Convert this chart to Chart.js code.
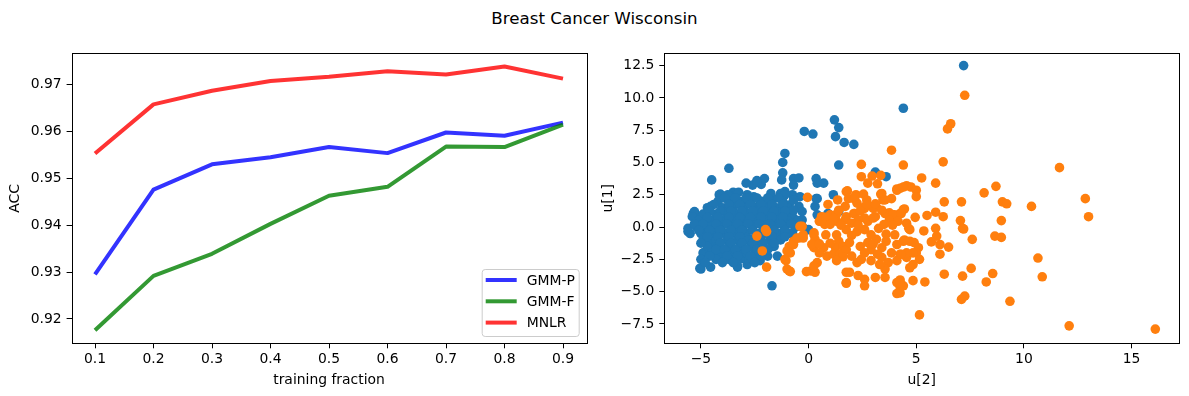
<!DOCTYPE html>
<html>
<head>
<meta charset="utf-8">
<script src="https://cdn.jsdelivr.net/npm/chart.js@4/dist/chart.umd.min.js"></script>
<style>
    body { margin: 0; background: #fff; overflow: hidden; width: 1189px; height: 396px; position: relative; }
    #fig-title { position: absolute; left: 0; top: 8px; width: 1189px; text-align: center; font: 16.7px 'DejaVu Sans', sans-serif; line-height: 20px; color: #000; }
    canvas { position: absolute; top: 40px; }
    #accChart { left: 0; }
    #embedChart { left: 595px; }
</style>
</head>
<body>
<div id="fig-title">Breast Cancer Wisconsin</div>
<canvas id="accChart" width="600" height="356"></canvas>
<canvas id="embedChart" width="594" height="356"></canvas>
<script>
// left panel: accuracy vs training fraction
const fractions = [0.1, 0.2, 0.3, 0.4, 0.5, 0.6, 0.7, 0.8, 0.9];
const gmmP = [0.9295, 0.9476, 0.9530, 0.9545, 0.9567, 0.9554, 0.9598, 0.9591, 0.9619];
const gmmF = [0.9176, 0.9292, 0.9339, 0.9403, 0.9463, 0.9482, 0.9568, 0.9567, 0.9615];
const mnlr = [0.9553, 0.9658, 0.9687, 0.9708, 0.9717, 0.9729, 0.9722, 0.9739, 0.9713];
const accTicks = [0.92, 0.93, 0.94, 0.95, 0.96, 0.97];
const fracTicks = [0.1, 0.2, 0.3, 0.4, 0.5, 0.6, 0.7, 0.8, 0.9];

// right panel: embedding [u[2], u[1]] per class
const class0 = [
    [7.2, 12.5], [4.4, 9.2], [1.2, 8.3], [1.4, 7.7], [1.25, 7.0], [1.65, 6.55], [2.1, 6.4], [-0.2, 7.4], [0.2, 7.2],
    [1.4, 4.8], [-1.1, 5.7], [-1.2, 5.0], [-1.2, 4.2], [-1.25, 3.65], [-3.7, 4.55], [-4.5, 3.65], [3.1, 4.25], [3.6, 3.9],
    [0.35, 3.75], [0.7, 3.4], [0.4, 3.4], [-0.7, 3.75], [-0.45, 3.8], [-0.7, 3.25], [-2.05, 3.75], [-2.4, 3.6], [-2.6, 3.25],
    [-4.15, 2.5], [-3.5, 2.7], [-3.25, 2.7], [-4.55, 1.6], [-5.3, 1.1], [1.15, 2.5], [0.35, 2.2], [-2.9, 3.4], [-2.2, 3.3],
    [-3.75, 2.5], [-1.1, 2.75], [-0.75, 2.5], [-0.4, 2.35], [-0.9, 1.7], [-0.45, 1.6], [-0.3, 1.2], [0.4, 2.2], [0.3, 1.6],
    [0.4, 0.95], [-0.75, 0.8], [-0.3, 0.55], [0.9, 1.05], [1.4, 1.2], [-0.9, 0.3], [-0.6, 0.55], [-0.3, 0.05], [0.0, -0.2],
    [-0.75, -0.45], [-1.7, -4.55], [-5.0, -3.25], [-4.55, -3.1], [-5.6, -0.35], [-5.5, -0.5], [-5.35, 1.05], [-4.95, 0.65],
    [-4.1, -2.5], [-3.3, -3.1], [-2.85, -2.9], [-2.25, -2.6], [-4.9, -2.0], [-4.6, -1.75], [-4.1, 2.55], [-5.3, 1.2],
    [-5.4, 0.8], [-5.0, 0.7], [-5.6, -0.1], [-2.4, 3.5], [-1.75, 2.6], [-1.3, 2.6], [-1.1, 2.5], [-2.55, 2.35], [-2.85, 2.5],
    [-3.45, 1.95], [-3.9, 1.2], [-3.05, 1.7], [-2.3, 1.7], [-1.9, 1.6], [-4.4, 0.45], [-4.7, 0.05], [-3.75, 0.3], [-3.3, 0.7],
    [-2.85, 1.05], [-2.55, 0.95], [-2.1, 0.95], [-1.6, 0.7], [-1.3, 1.2], [-1.0, 0.7], [-4.85, -0.45], [-4.4, -0.2],
    [-3.9, -0.45], [-3.45, -0.2], [-3.0, -0.35], [-2.7, -0.95], [-4.55, -1.2], [-4.85, -2.0], [-5.0, -2.5], [-4.1, -2.25],
    [-3.6, -1.75], [-3.15, -1.75], [-3.3, -2.5], [-2.85, -2.5], [-2.4, -2.25], [-1.9, -2.25], [-1.6, -1.5], [-1.45, -2.25],
    [-1.75, -0.45], [-1.3, -0.95], [-1.15, -0.35], [-5.05, -3.2], [-3.3, -3.05],
    [-4.2, 2.0], [-3.7, 2.0], [-3.2, 2.0], [-2.7, 2.0], [-2.2, 2.0], [-1.7, 2.0], [-1.2, 2.0],
    [-4.7, 1.5], [-4.0, 1.5], [-3.5, 1.5], [-3.0, 1.5], [-2.5, 1.5], [-2.0, 1.5], [-1.5, 1.5], [-1.0, 1.5],
    [-4.9, 1.0], [-4.3, 1.0], [-3.8, 1.0], [-3.3, 1.0], [-2.8, 1.0], [-2.3, 1.0], [-1.8, 1.0], [-1.3, 1.0], [-0.8, 1.0],
    [-5.1, 0.5], [-4.5, 0.5], [-4.0, 0.5], [-3.5, 0.5], [-3.0, 0.5], [-2.5, 0.5], [-2.0, 0.5], [-1.5, 0.5], [-1.0, 0.5], [-0.5, 0.5],
    [-5.2, 0.0], [-4.6, 0.0], [-4.1, 0.0], [-3.6, 0.0], [-3.1, 0.0], [-2.6, 0.0], [-2.1, 0.0], [-1.6, 0.0], [-1.1, 0.0], [-0.6, 0.0],
    [-5.0, -0.5], [-4.4, -0.5], [-3.9, -0.5], [-3.4, -0.5], [-2.9, -0.5], [-2.4, -0.5], [-1.9, -0.5], [-1.4, -0.5], [-0.9, -0.5],
    [-4.9, -1.0], [-4.3, -1.0], [-3.8, -1.0], [-3.3, -1.0], [-2.8, -1.0], [-2.3, -1.0], [-1.8, -1.0], [-1.3, -1.0],
    [-4.7, -1.5], [-4.2, -1.5], [-3.7, -1.5], [-3.2, -1.5], [-2.7, -1.5], [-2.2, -1.5], [-1.7, -1.5],
    [-4.5, -2.0], [-4.0, -2.0], [-3.5, -2.0], [-3.0, -2.0], [-2.5, -2.0], [-2.0, -2.0],
    [-4.3, -2.5], [-3.7, -2.5], [-3.2, -2.5], [-2.6, -2.5],
    [-3.9, 2.25], [-3.4, 2.25], [-2.9, 2.25], [-2.4, 2.25], [-1.9, 2.25], [-1.4, 2.25], [-0.7, 2.1],
    [-4.4, 1.75], [-3.7, 1.75], [-3.2, 1.75], [-2.7, 1.75], [-2.2, 1.75], [-1.7, 1.75], [-1.2, 1.75], [-0.7, 1.3],
    [-4.6, 1.25], [-4.1, 1.25], [-3.6, 1.25], [-3.1, 1.25], [-2.6, 1.25], [-2.1, 1.25], [-1.6, 1.25], [-1.1, 1.25],
    [-4.7, 0.75], [-4.2, 0.75], [-3.7, 0.75], [-3.2, 0.75], [-2.7, 0.75], [-2.2, 0.75], [-1.7, 0.75], [-1.2, 0.75],
    [-5.3, 0.25], [-4.9, 0.25], [-4.3, 0.25], [-3.8, 0.25], [-3.3, 0.25], [-2.8, 0.25], [-2.3, 0.25], [-1.8, 0.25], [-1.3, 0.25], [-0.8, 0.25],
    [-5.1, -0.25], [-4.6, -0.25], [-4.1, -0.25], [-3.6, -0.25], [-3.1, -0.25], [-2.6, -0.25], [-2.1, -0.25], [-1.6, -0.25], [-1.1, -0.25],
    [-4.7, -0.75], [-4.2, -0.75], [-3.7, -0.75], [-3.2, -0.75], [-2.2, -0.75], [-1.7, -0.75], [-1.1, -0.75],
    [-5.0, -1.25], [-4.1, -1.25], [-3.6, -1.25], [-3.1, -1.25], [-2.6, -1.25], [-2.1, -1.25], [-1.6, -1.25],
    [-4.3, -1.75], [-3.9, -1.75], [-3.4, -1.75], [-2.9, -1.75], [-2.4, -1.75], [-1.9, -1.75],
    [-4.6, -2.25], [-3.8, -2.25], [-3.3, -2.25], [-2.7, -2.25], [-2.2, -2.25],
    [-4.8, -2.75], [-4.0, -2.75], [-3.5, -2.75], [-2.5, -2.75]
];
const class1 = [
    [7.25, 10.2], [6.6, 8.0], [6.45, 7.6], [3.85, 5.95], [2.45, 4.85], [4.4, 4.8], [6.25, 5.05], [11.65, 4.6], [2.45, 3.9],
    [2.95, 3.95], [3.35, 4.0], [2.75, 3.4], [3.2, 3.35], [4.55, 3.2], [4.75, 3.1], [4.1, 2.95], [5.0, 2.85], [5.25, 3.8],
    [5.9, 3.4], [4.25, 3.0], [5.0, 2.35], [1.8, 2.8], [1.35, 2.1], [2.2, 2.5], [2.1, 2.2], [2.55, 2.55], [3.35, 2.55],
    [3.45, 2.1], [3.85, 2.2], [-0.05, 2.3], [1.7, 1.6], [2.25, 1.85], [2.6, 1.55], [3.15, 1.55], [4.45, 1.4], [4.25, 1.05],
    [3.75, 1.1], [4.0, 0.95], [4.95, 0.75], [0.7, 0.75], [1.0, 0.95], [1.25, 0.9], [1.75, 0.8], [2.1, 1.05],
    [8.15, 2.65], [8.7, 3.15], [9.0, 1.95], [9.2, 1.8], [10.35, 1.6], [12.85, 2.2], [13.0, 0.8], [6.3, 1.95], [7.1, 1.95],
    [4.4, 1.35], [5.5, 0.9], [5.9, 1.15], [6.25, 0.8], [7.05, 0.5], [8.95, 0.5],
    [7.15, -0.1], [8.65, -0.7], [8.95, -0.8], [7.6, -0.95], [10.65, -2.4], [10.85, -3.85], [5.35, -0.3], [5.9, -0.1],
    [5.95, -0.7], [5.7, -1.15], [6.1, -1.35], [6.5, -1.55], [6.1, -2.1], [4.55, 0.3], [4.7, -0.2], [4.4, -1.1], [4.7, -1.1],
    [4.9, -1.2], [5.1, -1.6], [5.0, -2.0], [5.15, -2.5], [4.85, -2.9], [4.7, -3.15], [4.25, -2.1], [4.55, -2.35],
    [6.3, -3.65], [7.15, -3.8], [7.55, -3.2], [8.55, -3.6], [8.25, -4.25], [4.85, -4.15], [5.4, -4.25], [4.25, -4.1],
    [4.25, -4.65], [4.25, -5.1], [7.1, -5.6], [7.25, -5.35], [9.35, -5.75], [5.15, -6.8], [12.1, -7.65], [16.1, -7.9],
    [4.85, -2.0], [4.65, -0.1], [7.2, -0.15], [4.45, -1.0], [4.55, -2.0],
    [1.75, 2.75], [1.85, 2.2], [2.15, 2.35], [2.7, 2.1], [3.4, 2.6], [3.55, 2.1], [4.1, 2.85], [4.4, 3.1], [2.15, 1.05],
    [2.6, 1.45], [3.0, 1.45], [3.1, 0.8], [2.6, 0.7], [3.55, 1.05], [3.9, 0.95], [4.3, 1.05], [0.6, 0.8], [1.3, 1.0],
    [1.7, 0.55], [2.3, 0.55],
    [-0.4, 0.05], [-0.45, -0.85], [-0.7, -1.1], [-0.25, -0.85], [-0.9, -1.5], [-0.85, -2.0], [-1.1, -2.5], [-0.9, -3.4],
    [0.25, -0.6], [0.3, -0.95], [0.25, -1.6], [0.7, -1.6], [0.85, -2.25], [0.4, -2.75], [0.1, -3.4], [0.3, -3.5],
    [0.55, 0.45], [0.9, 0.55], [1.3, 0.45], [2.0, 0.3], [2.25, -0.35], [1.75, -0.2], [2.6, -0.2], [2.75, 0.45], [3.0, 0.7],
    [3.25, -0.1], [3.75, 0.55], [4.15, 0.45], [1.4, -1.1], [1.25, -1.6], [1.6, -1.5], [1.15, -2.1], [1.45, -2.1],
    [1.75, -1.75], [2.0, -2.25], [2.25, -2.75], [2.45, -2.5], [2.4, -1.5], [2.75, -1.2], [2.9, -1.75], [3.15, -0.95],
    [3.4, -1.6], [3.6, -1.1], [3.85, -2.0], [3.4, -2.35], [3.7, -2.75], [4.1, -2.6], [4.3, -2.1], [3.55, -3.25],
    [3.1, -3.9], [3.55, -3.9], [4.1, -4.3], [4.4, -4.55], [1.75, -3.5], [1.75, -4.3], [2.3, -3.75], [2.6, -4.05],
    [2.6, -4.55], [4.1, -5.15],
    [-2.4, -0.7], [-1.95, -0.35], [-2.15, -1.85], [-1.95, -3.1], [-1.0, -3.25], [-0.85, -3.45], [-1.05, -2.6],
    [-0.7, -1.35], [-0.55, -0.85], [-0.3, 0.05], [-0.25, -0.6], [0.25, -0.45], [0.15, -1.35], [-0.1, -3.45],
    [0.25, -3.0], [0.5, 0.45], [0.8, 0.75], [1.15, 0.65], [0.75, 0.2], [1.75, -4.35], [1.9, -3.5], [4.25, -4.3],
    [-1.0, -1.85], [-2.0, -0.2],
    [0.9, 1.75], [2.7, 1.75], [3.1, 1.8], [1.4, 1.3], [2.4, 1.25], [3.4, 1.3], [1.0, 0.2], [1.5, 0.15], [2.3, 0.15],
    [3.5, 0.2], [3.9, 0.15], [0.8, -0.6], [1.3, -0.6], [2.0, -0.65], [2.9, -0.6], [3.6, -0.55], [4.0, -0.6],
    [0.5, -1.3], [1.0, -1.25], [1.9, -1.2], [3.0, -1.3], [4.1, -1.35], [0.5, -2.0], [1.6, -2.3], [2.6, -2.0],
    [3.2, -2.1], [1.3, -2.6], [2.9, -2.6], [3.3, -2.9]
];
const u2Ticks = [-5, 0, 5, 10, 15];
const u1Ticks = [-7.5, -5.0, -2.5, 0.0, 2.5, 5.0, 7.5, 10.0, 12.5];

const FONT = { family: "'DejaVu Sans', sans-serif", size: 13.9 };
const minus = s => s.replace('-', '\u2212');

function fixedTicks(list) {
    return function (scale) {
        scale.ticks = list.map(v => ({ value: v }));
    };
}

function axisGrid() {
    return { display: true, drawOnChartArea: false, drawTicks: true, tickLength: 5, tickColor: '#000', lineWidth: 1 };
}

// black box round the plot area
const frame = {
    id: 'frame',
    afterDraw(chart) {
        const a = chart.chartArea, ctx = chart.ctx;
        ctx.save();
        ctx.strokeStyle = '#000';
        ctx.lineWidth = 1;
        ctx.strokeRect(Math.round(a.left) + 0.5, Math.round(a.top) + 0.5, Math.round(a.right - a.left), Math.round(a.bottom - a.top));
        ctx.restore();
    }
};

// matplotlib-like legend, lower right
const cornerLegend = {
    id: 'cornerLegend',
    afterDraw(chart) {
        const a = chart.chartArea, ctx = chart.ctx;
        const w = 97, h = 67;
        const x = a.right - 7.7 - w, y = a.bottom - 7.3 - h;
        ctx.save();
        ctx.fillStyle = 'rgba(255,255,255,0.8)';
        ctx.strokeStyle = '#cccccc';
        ctx.lineWidth = 1;
        ctx.beginPath();
        ctx.roundRect(x + 0.5, y + 0.5, w, h, 3);
        ctx.fill();
        ctx.stroke();
        ctx.font = FONT.size + 'px ' + FONT.family;
        ctx.textBaseline = 'middle';
        ctx.fillStyle = '#000';
        chart.data.datasets.forEach((ds, i) => {
            const ry = y + 11 + i * 21.3;
            ctx.strokeStyle = ds.borderColor;
            ctx.lineWidth = 4;
            ctx.beginPath();
            ctx.moveTo(x + 4, ry);
            ctx.lineTo(x + 35, ry);
            ctx.stroke();
            ctx.fillText(ds.label, x + 45, ry + 1);
        });
        ctx.restore();
    }
};

const pts = (xs, ys) => xs.map((x, i) => ({ x: x, y: ys[i] }));

new Chart(document.getElementById('accChart'), {
    type: 'line',
    data: {
        datasets: [
            { label: 'GMM-P', data: pts(fractions, gmmP), borderColor: 'rgba(0,0,255,0.8)', order: 3 },
            { label: 'GMM-F', data: pts(fractions, gmmF), borderColor: 'rgba(0,128,0,0.8)', order: 2 },
            { label: 'MNLR', data: pts(fractions, mnlr), borderColor: 'rgba(255,0,0,0.8)', order: 1 }
        ]
    },
    options: {
        responsive: false,
        animation: false,
        events: [],
        layout: { padding: { top: 9.3, right: 13.6, left: 0, bottom: 0 } },
        elements: {
            line: { borderWidth: 4, tension: 0, borderJoinStyle: 'round', fill: false },
            point: { radius: 0 }
        },
        plugins: { legend: { display: false }, tooltip: { enabled: false } },
        scales: {
            x: {
                type: 'linear', min: 0.06, max: 0.94,
                afterBuildTicks: fixedTicks(fracTicks),
                afterFit: s => { s.height = 52.7; },
                grid: axisGrid(), border: { display: false },
                ticks: { color: '#000', font: FONT, padding: 3, autoSkip: false, maxRotation: 0, callback: v => v.toFixed(1) },
                title: { display: true, text: 'training fraction', color: '#000', font: FONT, padding: { bottom: 7.3 } }
            },
            y: {
                min: 0.9148, max: 0.9767,
                afterBuildTicks: fixedTicks(accTicks),
                afterFit: s => { s.width = 71.6; },
                grid: axisGrid(), border: { display: false },
                ticks: { color: '#000', font: FONT, padding: 5, autoSkip: false, callback: v => v.toFixed(2) },
                title: { display: true, text: 'ACC', color: '#000', font: FONT, padding: { top: 7 } }
            }
        }
    },
    plugins: [frame, cornerLegend]
});

const xy = list => list.map(p => ({ x: p[0], y: p[1] }));

new Chart(document.getElementById('embedChart'), {
    type: 'scatter',
    data: {
        datasets: [
            { data: xy(class0), backgroundColor: '#1f77b4', order: 1 },
            { data: xy(class1), backgroundColor: '#ff7f0e', order: 0 }
        ]
    },
    options: {
        responsive: false,
        animation: false,
        events: [],
        layout: { padding: { top: 9.3, right: 10, left: 0, bottom: 0 } },
        elements: { point: { radius: 4.8, borderWidth: 0 } },
        plugins: { legend: { display: false }, tooltip: { enabled: false } },
        scales: {
            x: {
                type: 'linear', min: -6.7, max: 17.2,
                afterBuildTicks: fixedTicks(u2Ticks),
                afterFit: s => { s.height = 52.7; },
                grid: axisGrid(), border: { display: false },
                ticks: { color: '#000', font: FONT, padding: 3, autoSkip: false, maxRotation: 0, callback: v => minus(String(v)) },
                title: { display: true, text: 'u[2]', color: '#000', font: FONT, padding: { bottom: 7.3 } }
            },
            y: {
                min: -9.0, max: 13.45,
                afterBuildTicks: fixedTicks(u1Ticks),
                afterFit: s => { s.width = 69.3; },
                grid: axisGrid(), border: { display: false },
                ticks: { color: '#000', font: FONT, padding: 5, autoSkip: false, callback: v => minus(v.toFixed(1)) },
                title: { display: true, text: 'u[1]', color: '#000', font: FONT, padding: { top: 4.7 } }
            }
        }
    },
    plugins: [frame]
});
</script>
</body>
</html>
